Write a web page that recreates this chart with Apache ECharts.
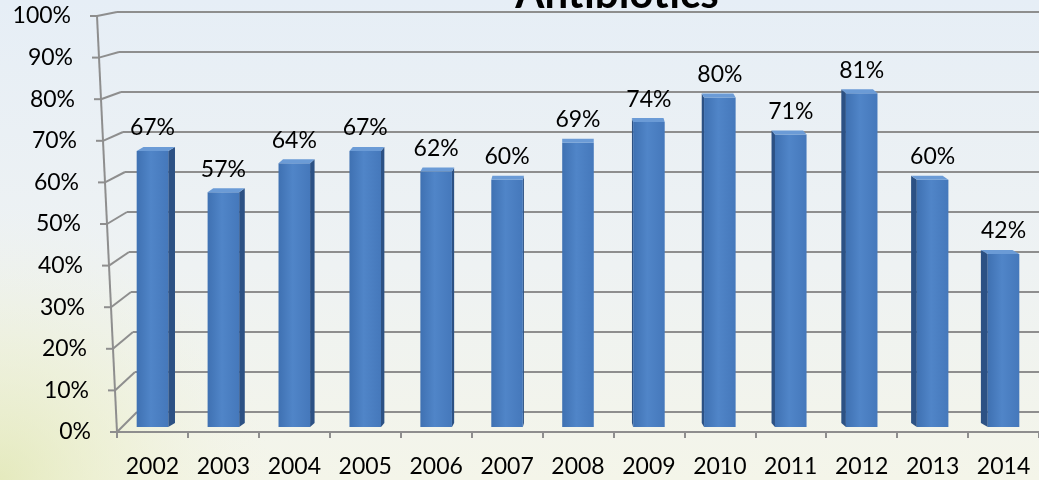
<!DOCTYPE html>
<html><head><meta charset="utf-8">
<script src="https://cdn.jsdelivr.net/npm/echarts@6/dist/echarts.min.js"></script>
<style>html,body{margin:0;padding:0;}#c{width:1039px;height:480px;}</style>
</head><body><div id="c"></div>
<script>
const categories = ['2002','2003','2004','2005','2006','2007','2008','2009','2010','2011','2012','2013','2014'];
const values = [67,57,64,67,62,60,69,74,80,71,81,60,42];
const yTicks = [0,10,20,30,40,50,60,70,80,90,100];
const titleText = 'Antibiotics';

const FONT = 'Lato, "Open Sans", sans-serif';
const GRID_COLOR = '#8e8e8e';

const chart = echarts.init(document.getElementById('c'));

function frameItem(params, api) {
  const cs = params.coordSys;
  const v = api.value(1);
  const p = api.coord([0, v]);
  const yf = p[1];
  const t = (yf - cs.y) / cs.height;
  const xf = cs.x - 20 + 20 * t;
  const yb = yf - 4 - 16 * t;
  const xb = xf + 20;
  const ls = {stroke: GRID_COLOR, lineWidth: 2};
  const children = [
    {type:'line', shape:{x1:xf-7, y1:yf, x2:xf, y2:yf}, style:ls},
    {type:'line', shape:{x1:xf, y1:yf, x2:xb, y2:yb}, style:ls},
    {type:'line', shape:{x1:xb, y1:yb, x2:1045, y2:yb}, style:ls},
    {type:'text', x:xf-26, y:yf, style:{text: v + '%', align:'right', verticalAlign:'middle', font:'23px ' + FONT, fill:'#000'}}
  ];
  if (params.dataIndex === 0) {
    children.push({type:'line', shape:{x1:cs.x-20, y1:cs.y, x2:cs.x, y2:cs.y+cs.height}, style:ls});
  }
  return {type:'group', children};
}

function barItem(params, api) {
  const cs = params.coordSys;
  const i = api.value(0), v = api.value(1);
  const top = api.coord([i, v]);
  const base = api.coord([i, 0]);
  const bw = api.size([1, 0])[0];
  const fw = bw * 0.445;
  const cx = top[0];
  const mid = cs.x + cs.width * 0.496;
  const dx = (mid - cx) * 0.016;
  const dy = -4;
  const xl = cx - fw / 2, xr = cx + fw / 2;
  const yt = top[1], yB = base[1];
  const edge = dx > 0 ? xr : xl;
  const children = [
    {type:'polygon', shape:{points:[[edge, yt],[edge+dx, yt+dy],[edge+dx, yB+dy],[edge, yB]]}, style:{fill:'#2c5184'}},
    {type:'rect', shape:{x:xl, y:yt, width:fw, height:yB-yt}, style:{fill: new echarts.graphic.LinearGradient(0,0,1,0,[
      {offset:0, color:'#3f71b2'},{offset:0.45, color:'#5085c8'},{offset:1, color:'#4578bb'}])}},
    {type:'polygon', shape:{points:[[xl, yt],[xr, yt],[xr+dx, yt+dy],[xl+dx, yt+dy]]}, style:{fill:'#6b9bd6'}},
    {type:'text', x:cx, y:yt-23, style:{text: v + '%', align:'center', verticalAlign:'middle', font:'23px ' + FONT, fill:'#000'}}
  ];
  return {type:'group', children};
}

chart.setOption({
  animation: false,
  backgroundColor: new echarts.graphic.LinearGradient(0,0,0,1,[
    {offset:0, color:'#e6eef6'},{offset:0.55, color:'#eef2f3'},{offset:1, color:'#f4f5e9'}]),
  graphic: [
    {type:'rect', z:-10, silent:true, shape:{x:0, y:180, width:420, height:300},
     style:{fill: new echarts.graphic.RadialGradient(0,1,0.9,[
       {offset:0, color:'rgba(218,226,160,0.6)'},{offset:0.5, color:'rgba(232,236,190,0.35)'},{offset:1, color:'rgba(240,242,220,0)'}])}}
  ],
  title: {
    text: titleText, left: 612, top: -32, textAlign: 'center',
    textStyle: {fontSize: 42, fontWeight: 'bold', fontFamily: FONT, color: '#000'}
  },
  grid: [
    {left:117, top:16, width:933, height:416},
    {left:117, top:15, width:933, height:412}
  ],
  xAxis: [
    {type:'category', gridIndex:0, data:categories,
     axisLine:{show:true, lineStyle:{color:GRID_COLOR, width:2}},
     axisTick:{show:true, length:6, lineStyle:{color:GRID_COLOR, width:2}},
     axisLabel:{fontSize:23, fontFamily:FONT, color:'#000', margin:23},
     splitLine:{show:false}},
    {type:'category', gridIndex:1, data:categories, show:false}
  ],
  yAxis: [
    {type:'value', gridIndex:0, min:0, max:100, interval:10, show:false},
    {type:'value', gridIndex:1, min:0, max:100, interval:10, show:false}
  ],
  series: [
    {type:'custom', name:'frame', xAxisIndex:0, yAxisIndex:0, z:1, silent:true,
     data: yTicks.map(v => [0, v]), renderItem: frameItem},
    {type:'custom', name:'Antibiotics', xAxisIndex:1, yAxisIndex:1, z:3,
     data: values.map((v, i) => [i, v]), renderItem: barItem}
  ]
});
</script></body></html>
